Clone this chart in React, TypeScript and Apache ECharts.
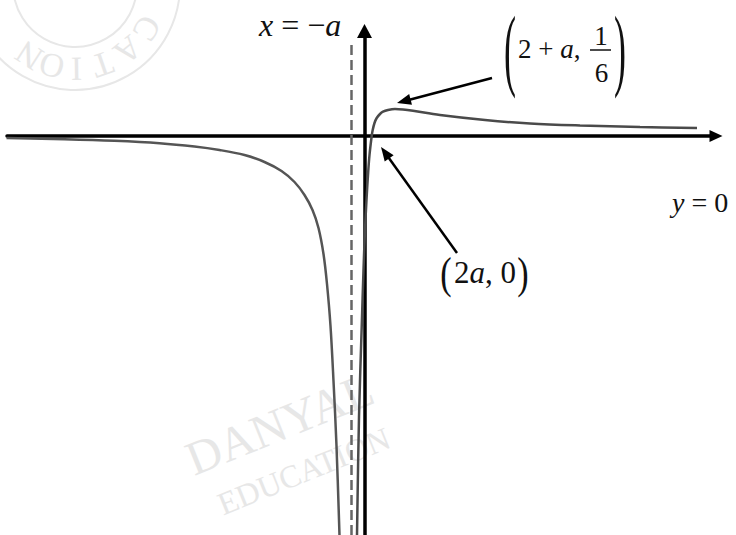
import React, { useEffect, useRef } from "react";
import * as echarts from "echarts";

// Sketch of y = f(x) with a vertical asymptote at x = -a, a root at (2a, 0)
// and a turning point at (2 + a, 1/6). Units: 1 unit = 10 px on both axes.
const xRange = [-35.75, 35.15];
const yRange = [-39.9, 10.5];

// Branch left of the asymptote
const leftBranchX = [-35.8, -30, -25, -20.5, -17, -14.5, -12, -10, -8.3, -7, -6, -5.2, -4.6, -4.1, -3.75, -3.4, -3.1, -2.8, -2.5];
const leftBranchY = [-0.2, -0.32, -0.48, -0.72, -1.05, -1.4, -1.9, -2.6, -3.5, -4.6, -5.9, -7.4, -9.2, -11.8, -14.8, -19, -24.5, -31, -39.9];

// Branch right of the asymptote
const rightBranchX = [-0.75, -0.55, -0.28, -0.1, 0.05, 0.2, 0.35, 0.5, 0.72, 0.82, 1.0, 1.22, 1.55, 1.85, 2.35, 3.05, 3.85, 4.85, 7.55, 12.05, 16.55, 21.55, 27.55, 33.25];
const rightBranchY = [-39.9, -28.1, -19.1, -13.4, -9.4, -6.4, -3.9, -1.9, 0, 0.6, 1.3, 1.8, 2.2, 2.43, 2.6, 2.7, 2.65, 2.52, 2.1, 1.6, 1.25, 1.05, 0.9, 0.8];

// Asymptote x = -a
const asymptoteX = -1.3;
const asymptoteTop = 9.4;

// Pointer arrows: [from, to]
const peakArrow = [[12.75, 5.8], [3.93, 3.48]];
const rootArrow = [[9.25, -11.7], [2.06, -1.67]];

// Stamp letters and their angles around the ring (degrees, clockwise)
const stampLetters = ["C", "A", "T", "I", "O", "N"];
const stampAngles = [31, 51, 71, 89, 106, 123];

const SERIF = '"Liberation Serif", "Times New Roman", serif';
const INK = "#111";
const WM = "#e7e7e7";

const zip = (xs: number[], ys: number[]) => xs.map((x, i) => [x, ys[i]]);

function mathText(text: string, x: number, y: number, size: number, align = "left") {
  return {
    type: "text",
    x,
    y,
    z: 20,
    style: {
      text,
      fill: INK,
      textAlign: align,
      align,
      textVerticalAlign: "middle",
      verticalAlign: "middle",
      fontFamily: SERIF,
      fontSize: size,
      rich: {
        i: { fontFamily: SERIF, fontSize: size, fontStyle: "italic", fill: INK },
        n: { fontFamily: SERIF, fontSize: size, fill: INK },
      },
    },
  };
}

function paren(ch: string, x: number, y: number, size: number, sy: number, sx = 1.1) {
  return {
    type: "text",
    x,
    y,
    z: 20,
    scaleX: sx,
    scaleY: sy,
    style: {
      text: ch,
      fill: INK,
      textAlign: "center",
      align: "center",
      textVerticalAlign: "middle",
      verticalAlign: "middle",
      fontFamily: SERIF,
      fontSize: size,
    },
  };
}

function watermarkText(text: string, x: number, y: number, size: number) {
  return {
    type: "text",
    x,
    y,
    z: 0,
    rotation: (22 * Math.PI) / 180,
    style: {
      text,
      fill: WM,
      textAlign: "left",
      align: "left",
      textVerticalAlign: "bottom",
      verticalAlign: "bottom",
      fontFamily: SERIF,
      fontSize: size,
    },
  };
}

export default function App() {
  const ref = useRef<HTMLDivElement>(null);

  useEffect(() => {
    if (!ref.current) return;
    const chart = echarts.init(ref.current, null, { renderer: "svg" });

    const cx = 75;
    const cy = -15;
    const stamp = stampLetters.map((ch, i) => {
      const t = (stampAngles[i] * Math.PI) / 180;
      return {
        type: "text",
        x: cx + 84 * Math.cos(t),
        y: cy + 84 * Math.sin(t),
        z: 0,
        rotation: -(t + Math.PI / 2),
        style: {
          text: ch,
          fill: WM,
          textAlign: "center",
          align: "center",
          textVerticalAlign: "middle",
          verticalAlign: "middle",
          fontFamily: SERIF,
          fontSize: 34,
        },
      };
    });

    const axisLine = (size: number[]) => ({
      show: true,
      onZero: true,
      symbol: ["none", "triangle"],
      symbolSize: size,
      lineStyle: { color: "#000", width: 3.5 },
    });

    chart.setOption({
      animation: false,
      backgroundColor: "#fff",
      grid: { left: 7, right: 20, top: 31, bottom: 0 },
      xAxis: {
        type: "value",
        min: xRange[0],
        max: xRange[1],
        axisLine: axisLine([12, 13]),
        axisTick: { show: false },
        axisLabel: { show: false },
        splitLine: { show: false },
      },
      yAxis: {
        type: "value",
        min: yRange[0],
        max: yRange[1],
        axisLine: axisLine([15, 14]),
        axisTick: { show: false },
        axisLabel: { show: false },
        splitLine: { show: false },
      },
      series: [
        {
          type: "line",
          data: zip(leftBranchX, leftBranchY),
          showSymbol: false,
          smooth: 0.35,
          lineStyle: { color: "#555", width: 2.5 },
          silent: true,
          z: 3,
        },
        {
          type: "line",
          data: zip(rightBranchX, rightBranchY),
          showSymbol: false,
          smooth: 0.35,
          lineStyle: { color: "#4a4a4a", width: 2.5 },
          silent: true,
          z: 3,
        },
        {
          type: "line",
          data: [
            [asymptoteX, yRange[0]],
            [asymptoteX, asymptoteTop],
          ],
          showSymbol: false,
          lineStyle: { color: "#666", width: 2.5, type: [10, 5] },
          silent: true,
          z: 2,
          markLine: {
            silent: true,
            symbol: ["none", "triangle"],
            symbolSize: [11, 14],
            label: { show: false },
            lineStyle: { color: "#000", width: 2.5, type: "solid" },
            data: [
              [{ coord: peakArrow[0] }, { coord: peakArrow[1] }],
              [{ coord: rootArrow[0] }, { coord: rootArrow[1] }],
            ],
          },
        },
      ],
      graphic: [
        // faint stamp and watermark
        { type: "circle", z: 0, shape: { cx, cy, r: 105 }, style: { fill: "none", stroke: WM, lineWidth: 2 } },
        { type: "circle", z: 0, shape: { cx, cy, r: 62 }, style: { fill: "none", stroke: WM, lineWidth: 2 } },
        ...stamp,
        watermarkText("DANYAL", 197, 483, 48),
        watermarkText("EDUCATION", 225, 520, 32),

        // x = -a
        mathText("{i|x}{n| = −}{i|a}", 259, 25, 32),

        // (2 + a, 1/6)
        paren("(", 510, 49, 30, 3.0, 1.2),
        mathText("{n|2 + }{i|a}{n|,}", 518, 49, 27),
        mathText("{n|1}", 601, 36, 27, "center"),
        { type: "line", z: 20, shape: { x1: 590, y1: 50, x2: 611, y2: 50 }, style: { stroke: INK, lineWidth: 1.5 } },
        mathText("{n|6}", 601.5, 73, 27, "center"),
        paren(")", 620, 49, 30, 3.0, 1.2),

        // y = 0
        mathText("{i|y}{n| = 0}", 672, 202, 28),

        // (2a, 0)
        paren("(", 446, 272.5, 31, 1.45),
        mathText("{n|2}{i|a}{n|, 0}", 454, 272, 31),
        paren(")", 523, 272.5, 31, 1.45),
      ],
    });

    return () => chart.dispose();
  }, []);

  return (
    <div
      ref={ref}
      style={{ position: "fixed", left: 0, top: 0, width: 736, height: 535, background: "#fff" }}
    />
  );
}
